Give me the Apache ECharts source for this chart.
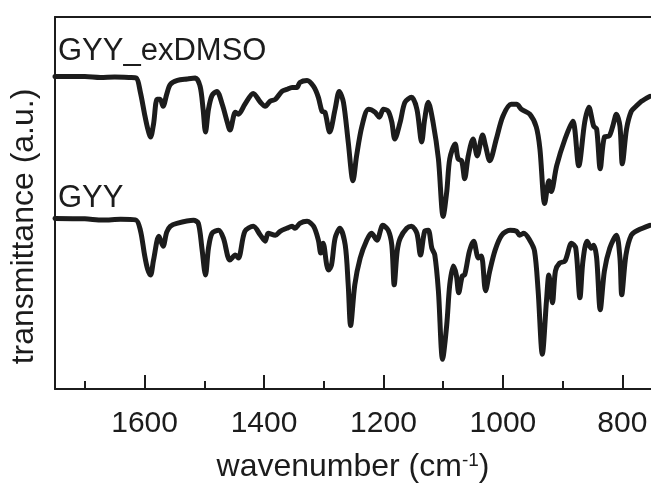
<!DOCTYPE html>
<html>
<head>
<meta charset="utf-8">
<script src="https://cdn.jsdelivr.net/npm/echarts@6/dist/echarts.min.js"></script>
<style>
  html, body { margin: 0; padding: 0; background: #fff; }
  #chart { width: 651px; height: 488px; }
</style>
</head>
<body>
<div id="chart"></div>
<script>
// wavenumber (cm-1) and transmittance (a.u., offset)
const wnExDMSO = [1750,1700,1674,1650,1625,1614,1607,1600,1595,1590,1585,1579,1574,1569,1563,1557,1545,1529,1515,1507,1502,1498,1493,1487,1479,1470,1462,1457,1448,1443,1432,1418,1406,1398,1390,1381,1370,1362,1353,1345,1340,1328,1317,1309,1303,1298,1290,1281,1274,1267,1259,1251,1245,1236,1225,1214,1207,1200,1192,1186,1181,1172,1164,1153,1144,1136,1131,1125,1117,1108,1100,1094,1089,1080,1075,1069,1064,1058,1050,1043,1034,1029,1022,1011,1000,986,977,969,955,944,938,930,923,919,910,896,883,873,863,856,848,843,837,830,822,816,810,804,800,793,785,777,768,754];
const trExDMSO = [315,315,314,314.5,314,313.5,299,277,263,254,267,292,292,285,297,307,311,312.5,313.5,305,282,259,282,296,300,287,270,261,279,277,287,298,289,285,290,292,300,302,304,304,309,311,305,294,280,279,259,282,300,289,249,210,235,265,282,279,274,282,280,269,252,269,289,294,282,249,272,289,269,232,174,199,232,247,232,230,212,235,252,235,256,245,230,252,275,287,287,282,277,264,242,187,210,199,225,252,270,225,269,284,265,262,222,254,255,265,277,265,227,262,280,285,290,295];

const wnGYY = [1750,1700,1670,1640,1615,1607,1600,1595,1590,1585,1576,1569,1563,1557,1546,1518,1510,1504,1498,1493,1487,1476,1468,1457,1448,1443,1432,1418,1406,1398,1393,1381,1373,1362,1353,1348,1340,1328,1317,1309,1305,1301,1295,1292,1287,1281,1273,1264,1259,1255,1248,1239,1228,1220,1211,1201,1192,1186,1182,1177,1172,1161,1153,1144,1138,1131,1125,1119,1114,1108,1101,1094,1089,1083,1078,1074,1068,1064,1056,1049,1041,1036,1029,1022,1013,1002,988,977,972,965,955,947,941,934,927,923,917,912,905,896,885,878,871,866,859,852,848,843,837,830,821,810,804,801,794,785,774,754];
const trGYY = [172,171.5,170.3,171,170.5,160,135,121,115,130,154,144,158,164,167,170,167,142,115,142,157,160,152,130,135,132,159,164,155,149,157,155,159,162,164,162,167,169,164,150,137,147,125,120,125,152,162,145,105,64,105,132,150,157,150,165,160,145,105,139,152,162,164,157,135,159,160,142,135,99,30,65,105,124,115,97,114,115,139,149,132,134,99,119,140,155,160,159,155,157,150,139,99,35,89,115,87,119,127,129,147,142,92,129,149,142,145,132,80,119,142,155,132,95,135,155,160,165];

const majorTicks = [800, 1000, 1200, 1400, 1600];
const minorTicks = [900, 1100, 1300, 1500, 1700];

const FONT = 'Liberation Sans, Arial, sans-serif';
const INK = '#1c1c1c';

function zip(xs, ys) {
  return xs.map((x, i) => [x, ys[i]]);
}

const chart = echarts.init(document.getElementById('chart'), null, { renderer: 'canvas' });

const option = {
  animation: false,
  backgroundColor: '#fff',
  grid: { left: 54, top: 17, right: 0, bottom: 96 },
  xAxis: [
    {
      // main bottom axis: long ticks + labels
      type: 'value',
      position: 'bottom',
      inverse: true,
      min: 752,
      max: 1750,
      name: 'wavenumber (cm{sup|-1})',
      nameLocation: 'middle',
      nameGap: 62,
      nameTextStyle: {
        color: INK,
        fontFamily: FONT,
        fontSize: 32,
        rich: {
          sup: { fontFamily: FONT, fontSize: 19, color: INK, verticalAlign: 'top' }
        }
      },
      axisLine: { show: true, lineStyle: { color: INK, width: 2 } },
      axisTick: {
        show: true,
        inside: true,
        length: 14,
        customValues: majorTicks,
        lineStyle: { color: INK, width: 2 }
      },
      axisLabel: {
        show: true,
        customValues: majorTicks,
        margin: 20,
        color: INK,
        fontFamily: FONT,
        fontSize: 30,
        formatter: (v) => String(v)
      },
      splitLine: { show: false }
    },
    {
      // short ticks in between
      type: 'value',
      position: 'bottom',
      inverse: true,
      min: 752,
      max: 1750,
      axisLine: { show: false },
      axisTick: {
        show: true,
        inside: true,
        length: 8,
        customValues: minorTicks,
        lineStyle: { color: INK, width: 2 }
      },
      axisLabel: { show: false },
      splitLine: { show: false }
    },
    {
      // top frame line
      type: 'value',
      position: 'top',
      inverse: true,
      min: 752,
      max: 1750,
      axisLine: { show: true, lineStyle: { color: INK, width: 2 } },
      axisTick: { show: false },
      axisLabel: { show: false },
      splitLine: { show: false }
    }
  ],
  yAxis: {
    type: 'value',
    min: 0,
    max: 375,
    name: 'transmittance (a.u.)',
    nameLocation: 'middle',
    nameRotate: 90,
    nameGap: 15,
    nameTextStyle: {
      color: INK,
      fontFamily: FONT,
      fontSize: 32,
      padding: [0, 47, 0, 0]
    },
    axisLine: { show: true, lineStyle: { color: INK, width: 2 } },
    axisTick: { show: false },
    axisLabel: { show: false },
    splitLine: { show: false }
  },
  graphic: [
    {
      type: 'text',
      left: 58,
      top: 36,
      style: { text: 'GYY_exDMSO', font: '31px ' + FONT, fill: INK }
    },
    {
      type: 'text',
      left: 58,
      top: 183,
      style: { text: 'GYY', font: '31px ' + FONT, fill: INK }
    }
  ],
  series: [
    {
      name: 'GYY_exDMSO',
      type: 'line',
      xAxisIndex: 0,
      data: zip(wnExDMSO, trExDMSO),
      showSymbol: false,
      smooth: 0.3,
      lineStyle: { color: INK, width: 5, join: 'round', cap: 'round' }
    },
    {
      name: 'GYY',
      type: 'line',
      xAxisIndex: 0,
      data: zip(wnGYY, trGYY),
      showSymbol: false,
      smooth: 0.3,
      lineStyle: { color: INK, width: 5, join: 'round', cap: 'round' }
    }
  ]
};

chart.setOption(option);
</script>
</body>
</html>
